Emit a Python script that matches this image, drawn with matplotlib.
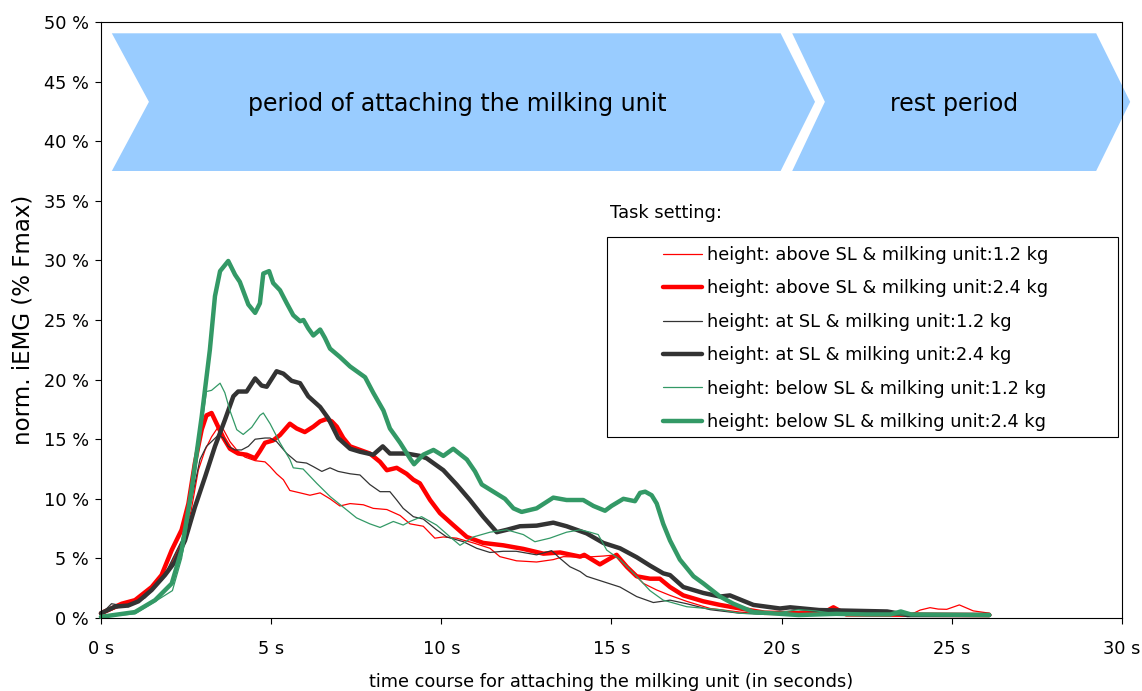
import matplotlib
matplotlib.use("Agg")
import matplotlib.pyplot as plt
from matplotlib.patches import Polygon, Rectangle

plt.rcParams['font.family'] = ['DejaVu Sans']

# ---------------- data ----------------
labels = [
    "height: above SL & milking unit:1.2 kg",
    "height: above SL & milking unit:2.4 kg",
    "height: at SL & milking unit:1.2 kg",
    "height: at SL & milking unit:2.4 kg",
    "height: below SL & milking unit:1.2 kg",
    "height: below SL & milking unit:2.4 kg",
]

t_r12 = [0, 0.6, 1.0, 1.5, 2.0, 2.4, 2.65, 2.86, 3.06, 3.25, 3.45, 3.6, 3.79, 3.99, 4.23, 4.53, 4.82, 4.97,
         5.16, 5.36, 5.55, 5.85, 6.14, 6.44, 6.73, 7.02, 7.32, 7.71, 8.0, 8.4, 8.79, 9.08, 9.47, 9.81, 10.06,
         10.45, 10.94, 11.43, 11.72, 12.21, 12.8, 13.29, 13.59, 14.2, 14.76, 15.15, 15.55, 15.94, 16.33,
         16.72, 17.21, 17.9, 18.78, 19.5, 23.8, 24.07, 24.36, 24.6, 24.85, 25.22, 25.63, 26.12]
v_r12 = [0.3, 1.0, 1.3, 2.3, 4.2, 6.5, 9.0, 12.4, 14.1, 15.2, 16.05, 15.8, 14.8, 14.1, 13.5, 13.2, 13.1, 12.7,
         12.1, 11.6, 10.7, 10.5, 10.3, 10.5, 10.0, 9.4, 9.6, 9.5, 9.2, 9.1, 8.6, 7.9, 7.7, 6.7, 6.8,
         6.7, 6.3, 5.85, 5.15, 4.8, 4.7, 4.9, 5.15, 5.1, 5.2, 5.3, 4.0, 2.9, 2.35,
         1.9, 1.4, 0.8, 0.5, 0.3, 0.3, 0.67, 0.87, 0.75, 0.73, 1.1, 0.6, 0.4]

t_r24 = [0, 0.61, 1.0, 1.49, 1.78, 2.08, 2.37, 2.57, 2.76, 2.96, 3.1, 3.25, 3.4, 3.6, 3.79, 4.03, 4.28, 4.53,
         4.67, 4.82, 5.06, 5.26, 5.55, 5.75, 5.99, 6.24, 6.44, 6.63, 6.78, 6.93, 7.12, 7.32, 7.61, 7.9, 8.2,
         8.4, 8.69, 8.98, 9.18, 9.37, 9.67, 9.96, 10.35, 10.75, 11.23, 11.82, 12.41, 13.0, 13.49, 14.08,
         14.2, 14.66, 14.96, 15.15, 15.45, 15.74, 16.13, 16.42, 16.72, 17.11, 17.7, 18.19, 18.78, 19.5,
         20.5, 21.2, 21.52, 21.9, 26.1]
v_r24 = [0.4, 1.2, 1.5, 2.6, 3.6, 5.7, 7.4, 9.6, 13.0, 15.8, 17.0, 17.2, 16.3, 15.1, 14.2, 13.8, 13.7, 13.4,
         14.0, 14.7, 14.9, 15.35, 16.3, 15.9, 15.6, 16.05, 16.5, 16.7, 16.5, 16.05, 15.1, 14.4, 14.1, 13.8, 13.1,
         12.4, 12.6, 12.1, 11.6, 11.3, 9.9, 8.8, 7.8, 6.8, 6.3, 6.1, 5.8, 5.4, 5.5, 5.15,
         5.3, 4.5, 5.0, 5.3, 4.3, 3.5, 3.3, 3.3, 2.6, 1.9, 1.4, 1.1, 0.8, 0.45,
         0.4, 0.4, 0.9, 0.3, 0.25]

t_k12 = [0, 0.31, 0.8, 1.3, 1.8, 2.37, 2.66, 2.91, 3.1, 3.25, 3.45, 3.6, 3.74, 3.94, 4.13, 4.33, 4.53, 4.82,
         4.97, 5.16, 5.46, 5.75, 6.04, 6.24, 6.49, 6.73, 6.97, 7.32, 7.61, 7.9, 8.2, 8.49, 8.69, 8.88, 9.18,
         9.47, 9.86, 10.16, 10.65, 11.04, 11.43, 11.82, 12.2, 12.8, 13.24, 13.49, 13.78, 14.08, 14.27, 14.76,
         15.25, 15.74, 16.23, 16.72, 17.21, 17.9, 18.78, 20.0, 26.1]
v_k12 = [0.3, 1.2, 0.95, 1.7, 3.2, 6.5, 9.9, 13.3, 14.4, 14.8, 15.35, 15.1, 14.4, 14.1, 14.1, 14.4, 15.0, 15.1,
         15.1, 14.8, 13.8, 13.1, 13.0, 12.7, 12.3, 12.6, 12.3, 12.1, 12.0, 11.2, 10.6, 10.6, 9.9, 9.2, 8.5,
         8.3, 7.4, 6.8, 6.4, 5.85, 5.5, 5.6, 5.6, 5.3, 5.65, 5.0, 4.3, 3.9, 3.5, 3.05,
         2.6, 1.8, 1.3, 1.5, 1.2, 0.7, 0.4, 0.3, 0.25]

t_k24 = [0, 0.41, 0.8, 1.1, 1.49, 1.88, 2.17, 2.47, 2.76, 3.06, 3.35, 3.64, 3.89, 4.03, 4.28, 4.53, 4.72, 4.87,
         5.16, 5.36, 5.6, 5.85, 6.09, 6.44, 6.68, 6.97, 7.32, 7.61, 8.0, 8.28, 8.49, 8.98, 9.37, 9.57, 10.06,
         10.45, 10.84, 11.23, 11.63, 11.92, 12.31, 12.8, 13.29, 13.68, 14.27, 14.76, 15.25, 15.74, 16.13,
         16.52, 16.72, 17.11, 17.7, 18.19, 18.48, 19.17, 19.95, 20.25, 21.1, 23.1, 23.7, 26.1]
v_k24 = [0.4, 0.95, 1.05, 1.4, 2.35, 3.6, 4.7, 6.5, 9.3, 11.85, 14.4, 16.6, 18.6, 19.0, 19.0, 20.1, 19.5, 19.4,
         20.7, 20.5, 19.9, 19.7, 18.6, 17.7, 16.75, 15.1, 14.2, 13.95, 13.7, 14.4, 13.8, 13.8, 13.6, 13.4, 12.4,
         11.2, 9.9, 8.5, 7.2, 7.4, 7.7, 7.75, 8.0, 7.7, 7.1, 6.3, 5.85, 5.1, 4.4,
         3.75, 3.6, 2.6, 2.1, 1.8, 1.9, 1.1, 0.8, 0.9, 0.67, 0.55, 0.25, 0.25]

t_g12 = [0, 1.0, 1.6, 2.1, 2.37, 2.66, 2.91, 3.1, 3.25, 3.5, 3.64, 3.79, 3.99, 4.18, 4.43, 4.67, 4.77, 4.97,
         5.26, 5.55, 5.65, 5.94, 6.34, 6.73, 7.12, 7.51, 7.9, 8.2, 8.59, 8.88, 9.08, 9.42, 9.86, 10.26, 10.55,
         10.94, 11.43, 11.92, 12.41, 12.75, 13.19, 13.68, 14.08, 14.37, 14.61, 14.86, 15.25, 15.74, 16.13,
         16.52, 17.21, 18.19, 18.78, 19.5, 20.5, 21.0, 21.5, 22.0, 26.1]
v_g12 = [0.1, 0.35, 1.4, 2.3, 5.0, 9.9, 15.2, 19.0, 19.1, 19.7, 18.9, 17.4, 15.8, 15.4, 16.0, 17.0, 17.2, 16.3,
         14.7, 13.3, 12.6, 12.5, 11.3, 10.2, 9.3, 8.4, 7.9, 7.6, 8.1, 7.8, 8.1, 8.5, 7.8, 6.8, 6.1,
         6.8, 7.2, 7.4, 7.0, 6.4, 6.7, 7.2, 7.4, 7.2, 7.0, 5.7, 4.9, 3.5, 2.3,
         1.5, 0.95, 0.7, 0.4, 0.3, 0.7, 0.6, 0.4, 0.3, 0.2]

t_g24 = [0, 1.0, 1.59, 2.08, 2.37, 2.66, 2.96, 3.2, 3.35, 3.5, 3.74, 3.94, 4.08, 4.33, 4.53, 4.67, 4.77, 4.94,
         5.06, 5.26, 5.46, 5.65, 5.85, 5.95, 6.09, 6.24, 6.44, 6.58, 6.73, 7.02, 7.32, 7.76, 8.0, 8.3, 8.49,
         8.79, 9.1, 9.2, 9.47, 9.77, 10.06, 10.35, 10.75, 10.99, 11.19, 11.53, 11.87, 12.12, 12.36, 12.8,
         13.29, 13.68, 14.17, 14.47, 14.81, 15.0, 15.35, 15.69, 15.84, 15.99, 16.18, 16.33, 16.52, 16.72,
         17.01, 17.41, 17.7, 18.19, 18.58, 19.17, 20.5, 21.6, 22.5, 23.2, 23.5, 23.8, 26.1]
v_g24 = [0.1, 0.5, 1.5, 2.9, 5.7, 10.7, 16.9, 22.5, 27.0, 29.1, 29.95, 28.8, 28.2, 26.3, 25.6, 26.4, 28.9, 29.1,
         28.1, 27.5, 26.4, 25.4, 24.9, 25.0, 24.3, 23.7, 24.2, 23.5, 22.6, 21.9, 21.1, 20.2, 18.9, 17.4, 15.9,
         14.7, 13.3, 12.9, 13.7, 14.1, 13.6, 14.2, 13.3, 12.3, 11.2, 10.6, 10.0, 9.2, 8.9, 9.2,
         10.1, 9.9, 9.9, 9.4, 9.0, 9.4, 10.0, 9.8, 10.5, 10.6, 10.3, 9.6, 7.9, 6.5,
         4.9, 3.5, 2.9, 1.8, 1.2, 0.5, 0.25, 0.35, 0.3, 0.3, 0.55, 0.3, 0.25]

x_ticks = [0, 5, 10, 15, 20, 25, 30]
x_ticklabels = ["0 s", "5 s", "10 s", "15 s", "20 s", "25 s", "30 s"]
y_ticks = [0, 5, 10, 15, 20, 25, 30, 35, 40, 45, 50]
y_ticklabels = ["0 %", "5 %", "10 %", "15 %", "20 %", "25 %", "30 %", "35 %", "40 %", "45 %", "50 %"]

phase_names = ["period of attaching the milking unit", "rest period"]

# ---------------- figure ----------------
fig = plt.figure(figsize=(11.42, 6.91), dpi=100)
ax = fig.add_axes([0.0884, 0.1056, 0.8941, 0.8626])

FS = 12.8
RED, BLACK, GREEN = "#FF0000", "#333333", "#339966"
thin, thick = 0.9, 3.2
series = [
    (t_r12, v_r12, RED, thin),
    (t_r24, v_r24, RED, thick),
    (t_k12, v_k12, BLACK, thin),
    (t_k24, v_k24, BLACK, thick),
    (t_g12, v_g12, GREEN, thin),
    (t_g24, v_g24, GREEN, thick),
]
handles = []
for (t, v, c, lw), lab in zip(series, labels):
    h, = ax.plot(t, v, color=c, lw=lw, label=lab, solid_joinstyle="round",
                 solid_capstyle="round", clip_on=False)
    handles.append(h)

ax.set_xlim(0, 30)
ax.set_ylim(0, 50)
ax.set_xticks(x_ticks)
ax.set_xticklabels(x_ticklabels)
ax.set_yticks(y_ticks)
ax.set_yticklabels(y_ticklabels)
ax.tick_params(axis="both", direction="out", length=4, width=0.8, labelsize=FS)
ax.tick_params(axis="x", pad=11.5)
ax.tick_params(axis="y", pad=4.5)
for s in ax.spines.values():
    s.set_linewidth(0.8)
    s.set_color("black")

ax.set_xlabel("time course for attaching the milking unit (in seconds)", fontsize=FS, labelpad=11)
ax.set_ylabel("norm. iEMG (% Fmax)", fontsize=16.5, labelpad=7)

# phase chevrons
BLUE = "#99CCFF"
chev1 = [(0.32, 49.05), (19.97, 49.05), (20.98, 43.3), (19.97, 37.5), (0.32, 37.5), (1.41, 43.3)]
chev2 = [(20.31, 49.05), (29.24, 49.05), (30.24, 43.3), (29.24, 37.5), (20.31, 37.5), (21.27, 43.3)]
for verts in (chev1, chev2):
    ax.add_patch(Polygon(verts, closed=True, facecolor=BLUE, edgecolor="none", clip_on=False, zorder=1))
ax.text(10.46, 43.1, phase_names[0], fontsize=17, ha="center", va="center", zorder=3)
ax.text(25.07, 43.1, phase_names[1], fontsize=17, ha="center", va="center", zorder=3)

# legend frame + legend
ax.add_patch(Rectangle((0.4956, 0.3037), 0.5004, 0.3353, transform=ax.transAxes,
                       facecolor="white", edgecolor="black", lw=0.8, zorder=4))
leg = ax.legend(handles=handles, loc="upper left", bbox_to_anchor=(0.5504, 0.6245),
                frameon=False, fontsize=FS, borderpad=0, handlelength=2.2,
                handletextpad=0.28, labelspacing=0.87, borderaxespad=0)
leg.set_zorder(5)
ax.text(0.4985, 0.679, "Task setting:", transform=ax.transAxes, fontsize=FS,
        ha="left", va="center", zorder=5)

fig.savefig("out.png", dpi=100)
